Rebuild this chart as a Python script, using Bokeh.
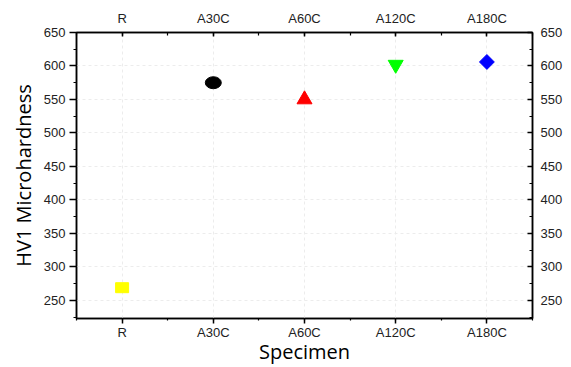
from bokeh.plotting import figure
from bokeh.models import LinearAxis, SingleIntervalTicker, Range1d
from bokeh.embed import file_html
from bokeh.resources import INLINE

specimens = ["R", "A30C", "A60C", "A120C", "A180C"]
hardness = [269, 575, 550, 602, 606]
colors = ["#FFFF00", "#000000", "#FF0000", "#00FF00", "#0000FF"]

xpos = [i + 1 for i in range(len(specimens))]
overrides = {i + 1: s for i, s in enumerate(specimens)}

p = figure(width=571, height=367, output_backend="svg", toolbar_location=None,
           x_range=Range1d(0.5, len(specimens) + 0.5), y_range=Range1d(223, 650),
           min_border_left=76, min_border_top=32, min_border_right=39, min_border_bottom=46)
p.background_fill_color = "white"
p.border_fill_color = "white"
p.outline_line_color = "black"
p.outline_line_width = 1.5

def xt():
    return SingleIntervalTicker(interval=1, num_minor_ticks=2)

def yt():
    return SingleIntervalTicker(interval=50, num_minor_ticks=2)

tick_font = "Liberation Sans"
lab_font = "Open Sans"

def style(ax, tin, tout, min_in, min_out, standoff):
    ax.axis_line_color = "black"
    ax.axis_line_width = 1.5
    ax.major_tick_line_color = "black"
    ax.major_tick_line_width = 1.5
    ax.minor_tick_line_color = "black"
    ax.minor_tick_line_width = 1.2
    ax.major_tick_in = tin
    ax.major_tick_out = tout
    ax.minor_tick_in = min_in
    ax.minor_tick_out = min_out
    ax.major_label_text_font = tick_font
    ax.major_label_text_font_size = "13px"
    ax.major_label_text_color = "#222222"
    ax.major_label_standoff = standoff

# bottom
bx = p.xaxis[0]
bx.ticker = xt()
bx.major_label_overrides = overrides
style(bx, 0, 5, 0, 2, 1)
bx.axis_label = "Specimen"
bx.axis_label_text_font = lab_font
bx.axis_label_text_font_size = "20px"
bx.axis_label_text_font_style = "normal"
bx.axis_label_text_color = "black"
bx.axis_label_standoff = -5

# left
ly = p.yaxis[0]
ly.ticker = yt()
style(ly, 0, 7, 0, 3, 4)
ly.axis_label = "HV1 Microhardness"
ly.axis_label_text_font = lab_font
ly.axis_label_text_font_size = "20px"
ly.axis_label_text_font_style = "normal"
ly.axis_label_text_color = "black"
ly.axis_label_standoff = 4

# top
tx = LinearAxis(ticker=xt(), major_label_overrides=overrides)
style(tx, 4, 0, 3, 0, 7)
p.add_layout(tx, "above")

# right
ry = LinearAxis(ticker=yt())
style(ry, 5, 0, 3, 0, 8)
p.add_layout(ry, "right")

p.xgrid.ticker = xt()
p.ygrid.ticker = yt()
for g in (p.xgrid[0], p.ygrid[0]):
    g.grid_line_color = "#ececec"
    g.grid_line_dash = "3 3"
    g.grid_line_width = 1

# R: square
p.rect(x=xpos[0], y=hardness[0], width=13, height=10, width_units="screen",
       height_units="screen", fill_color=colors[0], line_color=colors[0])
# A30C: circle
p.ellipse(x=xpos[1], y=hardness[1], width=16, height=12, width_units="screen",
          height_units="screen", fill_color=colors[1], line_color=colors[1])
# A60C: triangle
p.scatter(x=[xpos[2]], y=[hardness[2]], marker="triangle", size=15,
          fill_color=colors[2], line_color=colors[2])
# A120C: inverted triangle
p.scatter(x=[xpos[3]], y=[hardness[3]], marker="inverted_triangle", size=15,
          fill_color=colors[3], line_color=colors[3])
# A180C: diamond
p.scatter(x=[xpos[4]], y=[hardness[4]], marker="square", size=10.5, angle=0.785398,
          fill_color=colors[4], line_color=colors[4])

open("out.html", "w").write(file_html(p, INLINE))
